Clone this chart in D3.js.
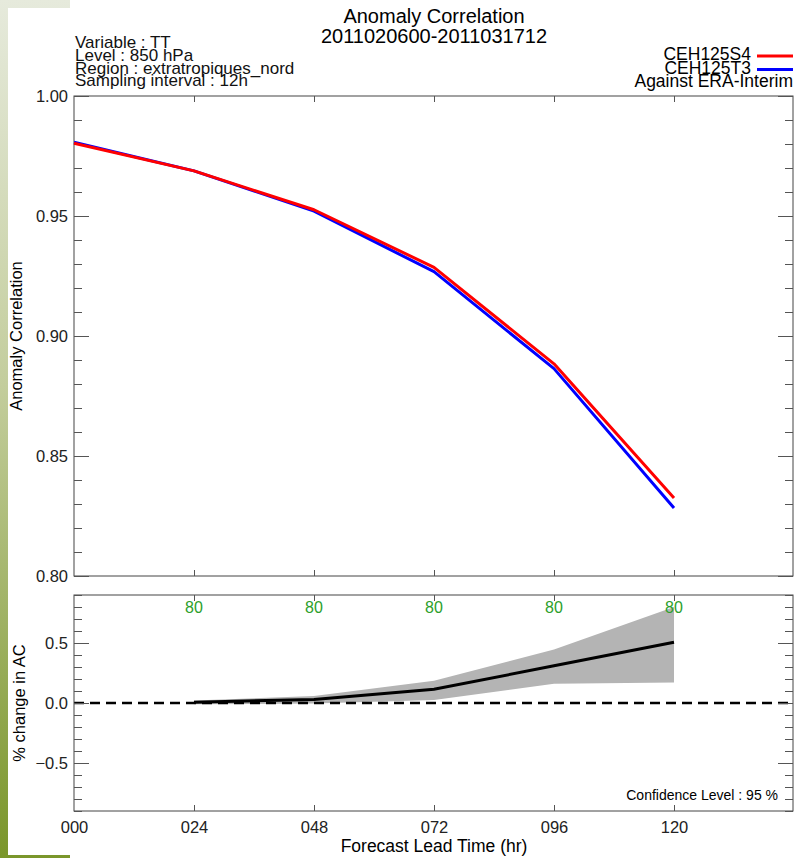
<!DOCTYPE html>
<html>
<head>
<meta charset="utf-8">
<script src="https://cdn.jsdelivr.net/npm/d3@7"></script>
<style>
  body { margin: 0; background: #fff; }
  svg { display: block; font-family: "Liberation Sans", Arial, sans-serif; }
  .axis path, .axis line { stroke: #555; }
  .axis text { fill: #222; font-size: 16.5px; }
</style>
</head>
<body>
<div class="main"></div>
<script>
// forecast lead times (hr)
const leadTimes = [0, 24, 48, 72, 96, 120];
const xTickLabels = ["000", "024", "048", "072", "096", "120"];

// anomaly correlation per experiment
const seriesNames = ["CEH125S4", "CEH125T3"];
const seriesColors = ["#ff0000", "#0000ff"];
const acS4 = [0.9803, 0.9688, 0.9526, 0.9286, 0.8884, 0.8325];
const acT3 = [0.9807, 0.9688, 0.9520, 0.9268, 0.8864, 0.8283];

// % change in AC with confidence band
const diffTimes = [24, 48, 72, 96, 120];
const diffMean = [0.006, 0.03, 0.114, 0.31, 0.506];
const diffHigh = [0.02, 0.058, 0.186, 0.445, 0.80];
const diffLow = [-0.01, -0.005, 0.025, 0.16, 0.17];
const sampleCounts = [80, 80, 80, 80, 80];

const headerLines = ["Variable : TT", "Level : 850 hPa", "Region : extratropiques_nord", "Sampling interval : 12h"];

const W = 794, H = 858;
const left = 74, right = 793;
const top1 = 96, bot1 = 576;
const top2 = 595, bot2 = 811;

const svg = d3.select("body>.main").append("svg")
    .attr("width", W)
    .attr("height", H);

// slide background (green edge)
const defs = svg.append("defs");
const grad = defs.append("linearGradient")
    .attr("id", "slideGreen")
    .attr("x1", 0).attr("y1", 0).attr("x2", 0).attr("y2", 1);
grad.append("stop").attr("offset", "0%").attr("stop-color", "#e6eadc");
grad.append("stop").attr("offset", "45%").attr("stop-color", "#c3cd9c");
grad.append("stop").attr("offset", "100%").attr("stop-color", "#7a962a");

svg.append("rect").attr("x", 0).attr("y", 0).attr("width", 70).attr("height", H)
    .style("fill", "url(#slideGreen)");
svg.append("rect").attr("x", 8).attr("y", 8).attr("width", 70).attr("height", H - 11)
    .style("fill", "#fff");

// scales
const x = d3.scaleLinear().domain([0, 144]).range([left, right + 1]);
const y1 = d3.scaleLinear().domain([0.80, 1.00]).range([bot1, top1]);
const y2 = d3.scaleLinear().domain([-0.9, 0.9]).range([bot2, top2]);

// titles
svg.append("text")
    .attr("x", 434).attr("y", 23)
    .attr("text-anchor", "middle")
    .style("font-size", "20px")
    .text("Anomaly Correlation");
svg.append("text")
    .attr("x", 434).attr("y", 43)
    .attr("text-anchor", "middle")
    .style("font-size", "20px")
    .text("2011020600-2011031712");

svg.append("g").selectAll("text")
    .data(headerLines)
  .enter().append("text")
    .attr("x", 75)
    .attr("y", (d, i) => 48 + i * 12.8)
    .style("font-size", "17px")
    .style("fill", "#111")
    .text(d => d);

// legend
const legend = svg.append("g").attr("class", "legend");
seriesNames.forEach(function(name, i) {
  const ly = 60 + i * 13.5;
  legend.append("text")
      .attr("x", 751).attr("y", ly)
      .attr("text-anchor", "end")
      .style("font-size", "17.5px")
      .text(name);
  legend.append("line")
      .attr("x1", 757).attr("x2", 793)
      .attr("y1", ly - 4).attr("y2", ly - 4)
      .style("stroke", seriesColors[i])
      .style("stroke-width", 3);
});
legend.append("text")
    .attr("x", 793).attr("y", 87)
    .attr("text-anchor", "end")
    .style("font-size", "17.5px")
    .text("Against ERA-Interim");

// ---- top panel ----
const gTop = svg.append("g");
gTop.append("rect")
    .attr("x", left).attr("y", top1)
    .attr("width", right - left).attr("height", bot1 - top1)
    .style("fill", "none").style("stroke", "#444");

const minor1 = d3.range(80, 101).map(d => d / 100);
const major1 = [0.80, 0.85, 0.90, 0.95, 1.00];
gTop.append("g").attr("class", "axis")
    .attr("transform", `translate(${left},0)`)
    .call(d3.axisRight(y1).tickValues(minor1).tickSize(8).tickFormat(""))
    .call(g => g.select(".domain").remove());
gTop.append("g").attr("class", "axis")
    .attr("transform", `translate(${left},0)`)
    .call(d3.axisRight(y1).tickValues(major1).tickSize(15).tickFormat(""))
    .call(g => g.select(".domain").remove());
gTop.append("g").attr("class", "axis")
    .attr("transform", `translate(${right},0)`)
    .call(d3.axisLeft(y1).tickValues(minor1).tickSize(8).tickFormat(""))
    .call(g => g.select(".domain").remove());
gTop.append("g").attr("class", "axis")
    .attr("transform", `translate(${right},0)`)
    .call(d3.axisLeft(y1).tickValues(major1).tickSize(15).tickFormat(""))
    .call(g => g.select(".domain").remove());
gTop.append("g").attr("class", "axis")
    .attr("transform", `translate(${left},0)`)
    .call(d3.axisLeft(y1).tickValues(major1).tickSize(0).tickPadding(6).tickFormat(d3.format(".2f")))
    .call(g => g.select(".domain").remove());
gTop.append("g").attr("class", "axis")
    .attr("transform", `translate(0,${top1})`)
    .call(d3.axisBottom(x).tickValues(leadTimes.slice(1)).tickSize(6).tickFormat(""))
    .call(g => g.select(".domain").remove());
gTop.append("g").attr("class", "axis")
    .attr("transform", `translate(0,${bot1})`)
    .call(d3.axisTop(x).tickValues(leadTimes.slice(1)).tickSize(6).tickFormat(""))
    .call(g => g.select(".domain").remove());

svg.append("text")
    .attr("transform", `translate(22,${(top1 + bot1) / 2}) rotate(-90)`)
    .attr("text-anchor", "middle")
    .style("font-size", "16.5px")
    .text("Anomaly Correlation");

const line1 = d3.line().x((d, i) => x(leadTimes[i])).y(d => y1(d));
[acT3, acS4].forEach(function(vals, k) {
  gTop.append("path")
      .datum(vals)
      .attr("d", line1)
      .style("fill", "none")
      .style("stroke", k === 0 ? seriesColors[1] : seriesColors[0])
      .style("stroke-width", 3)
      .style("stroke-linejoin", "round");
});

// ---- bottom panel ----
const gBot = svg.append("g");
const band = d3.area()
    .x((d, i) => x(diffTimes[i]))
    .y0((d, i) => y2(diffLow[i]))
    .y1(d => y2(d));
gBot.append("path")
    .datum(diffHigh)
    .attr("d", band)
    .style("fill", "#b4b4b4");

gBot.append("line")
    .attr("x1", left).attr("x2", right)
    .attr("y1", y2(0)).attr("y2", y2(0))
    .style("stroke", "#000")
    .style("stroke-width", 2.5)
    .style("stroke-dasharray", "10,6");

gBot.append("path")
    .datum(diffMean)
    .attr("d", d3.line().x((d, i) => x(diffTimes[i])).y(d => y2(d)))
    .style("fill", "none")
    .style("stroke", "#000")
    .style("stroke-width", 3);

gBot.append("rect")
    .attr("x", left).attr("y", top2)
    .attr("width", right - left).attr("height", bot2 - top2)
    .style("fill", "none").style("stroke", "#444");

const minor2 = d3.range(-9, 10).map(d => d / 10);
const major2 = [-0.5, 0.0, 0.5];
gBot.append("g").attr("class", "axis")
    .attr("transform", `translate(${left},0)`)
    .call(d3.axisRight(y2).tickValues(minor2).tickSize(8).tickFormat(""))
    .call(g => g.select(".domain").remove());
gBot.append("g").attr("class", "axis")
    .attr("transform", `translate(${left},0)`)
    .call(d3.axisRight(y2).tickValues(major2).tickSize(15).tickFormat(""))
    .call(g => g.select(".domain").remove());
gBot.append("g").attr("class", "axis")
    .attr("transform", `translate(${right},0)`)
    .call(d3.axisLeft(y2).tickValues(minor2).tickSize(8).tickFormat(""))
    .call(g => g.select(".domain").remove());
gBot.append("g").attr("class", "axis")
    .attr("transform", `translate(${right},0)`)
    .call(d3.axisLeft(y2).tickValues(major2).tickSize(15).tickFormat(""))
    .call(g => g.select(".domain").remove());
gBot.append("g").attr("class", "axis")
    .attr("transform", `translate(${left},0)`)
    .call(d3.axisLeft(y2).tickValues(major2).tickSize(0).tickPadding(6).tickFormat(d3.format(".1f")))
    .call(g => g.select(".domain").remove());
gBot.append("g").attr("class", "axis")
    .attr("transform", `translate(0,${top2})`)
    .call(d3.axisBottom(x).tickValues(leadTimes.slice(1)).tickSize(6).tickFormat(""))
    .call(g => g.select(".domain").remove());
gBot.append("g").attr("class", "axis")
    .attr("transform", `translate(0,${bot2})`)
    .call(d3.axisTop(x).tickValues(leadTimes.slice(1)).tickSize(6).tickFormat(""))
    .call(g => g.select(".domain").remove());

// x tick labels
gBot.append("g").attr("class", "axis")
    .attr("transform", `translate(0,${bot2})`)
    .call(d3.axisBottom(x).tickValues(leadTimes).tickSize(0).tickPadding(10)
      .tickFormat((d, i) => xTickLabels[i]))
    .call(g => g.select(".domain").remove());

// sample counts
gBot.append("g").selectAll("text")
    .data(sampleCounts)
  .enter().append("text")
    .attr("x", (d, i) => x(diffTimes[i]))
    .attr("y", top2 + 18)
    .attr("text-anchor", "middle")
    .style("font-size", "16px")
    .style("fill", "#2ca02c")
    .text(d => d);

svg.append("text")
    .attr("transform", `translate(25,${y2(0)}) rotate(-90)`)
    .attr("text-anchor", "middle")
    .style("font-size", "16.5px")
    .text("% change in AC");

svg.append("text")
    .attr("x", 778).attr("y", 800)
    .attr("text-anchor", "end")
    .style("font-size", "14px")
    .text("Confidence Level : 95 %");

svg.append("text")
    .attr("x", 434).attr("y", 852)
    .attr("text-anchor", "middle")
    .style("font-size", "17.5px")
    .text("Forecast Lead Time (hr)");
</script>
</body>
</html>
